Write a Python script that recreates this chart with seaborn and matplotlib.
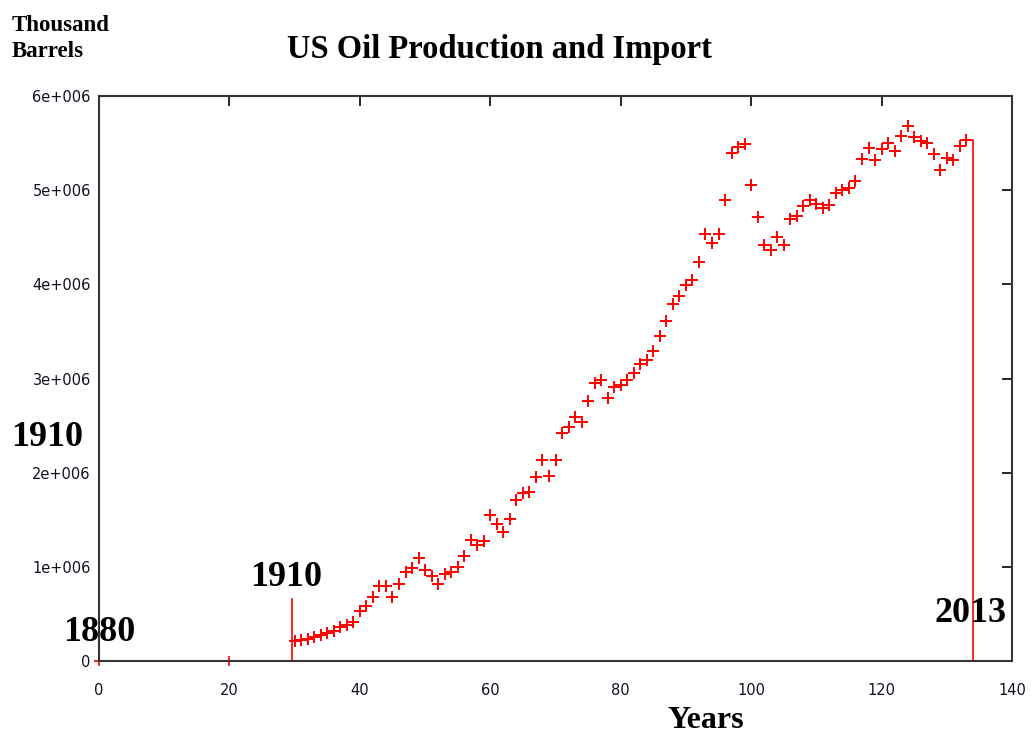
import numpy as np
import pandas as pd
import matplotlib
matplotlib.use("Agg")
import matplotlib.pyplot as plt
import seaborn as sns

# --- DATI ---
base_year = 1880
years = list(range(1910, 2014))
production = [
    0.21, 0.22, 0.23, 0.26, 0.28, 0.30, 0.32, 0.36, 0.38, 0.41,   # 1910-1919
    0.53, 0.58, 0.68, 0.80, 0.80, 0.68, 0.82, 0.95, 0.99, 1.09,   # 1920-1929
    0.97, 0.90, 0.82, 0.92, 0.95, 1.00, 1.12, 1.29, 1.23, 1.28,   # 1930-1939
    1.55, 1.46, 1.37, 1.51, 1.71, 1.78, 1.80, 1.95, 2.14, 1.97,   # 1940-1949
    2.14, 2.42, 2.49, 2.59, 2.54, 2.76, 2.95, 2.98, 2.79, 2.91,   # 1950-1959
    2.93, 2.98, 3.06, 3.15, 3.20, 3.29, 3.45, 3.61, 3.79, 3.88,   # 1960-1969
    3.99, 4.05, 4.24, 4.53, 4.44, 4.54, 4.90, 5.40, 5.46, 5.49,   # 1970-1979
    5.06, 4.72, 4.42, 4.37, 4.50, 4.42, 4.69, 4.73, 4.83, 4.90,   # 1980-1989
    4.85, 4.81, 4.84, 4.97, 5.00, 5.02, 5.10, 5.33, 5.45, 5.32,   # 1990-1999
    5.44, 5.50, 5.42, 5.58, 5.68, 5.57, 5.52, 5.50, 5.39, 5.22,   # 2000-2009
    5.34, 5.32, 5.47, 5.53,                                       # 2010-2013
]
# punti isolati a zero (1880, 1900)
zero_years = [1880, 1900]
zero_values = [0, 0]

y_ticks = [0, 1e6, 2e6, 3e6, 4e6, 5e6, 6e6]
y_tick_labels = ["0", "1e+006", "2e+006", "3e+006", "4e+006", "5e+006", "6e+006"]
x_ticks = [0, 20, 40, 60, 80, 100, 120, 140]

df = pd.DataFrame({
    "Years": [y - base_year for y in years],
    "Barrels": [v * 1e6 for v in production],
})
df_zero = pd.DataFrame({
    "Years": [y - base_year for y in zero_years],
    "Barrels": zero_values,
})

# --- GRAFICO ---
sns.set_style("white")
plt.rcParams["font.family"] = ["DejaVu Sans"]
plt.rcParams["text.color"] = "black"

fig = plt.figure(figsize=(10.36, 7.39), dpi=100)
ax = fig.add_axes([0.0956, 0.1055, 0.8812, 0.7645])

red = "#ff0000"
serif = ["Liberation Serif", "DejaVu Serif"]

sns.scatterplot(data=df, x="Years", y="Barrels", marker="+", s=80,
                color=red, linewidth=1.4, ax=ax, legend=False, zorder=3)
sns.scatterplot(data=df_zero, x="Years", y="Barrels", marker="+", s=60,
                color=red, linewidth=1.2, ax=ax, legend=False, clip_on=False, zorder=1)

# linea verticale 1910
x_first = df["Years"].iloc[0]
ax.vlines(x_first - 0.4, 0, 0.67e6, color=red, linewidth=1.2)
# gradino finale 2013
x_last = df["Years"].iloc[-1]
y_last = df["Barrels"].iloc[-1]
ax.plot([x_last, x_last + 1, x_last + 1], [y_last, y_last, 0], color=red, linewidth=1.2)

ax.set_xlim(0, 140)
ax.set_ylim(0, 6e6)
ax.set_xticks(x_ticks)
ax.set_xticklabels([str(t) for t in x_ticks])
ax.set_yticks(y_ticks)
ax.set_yticklabels(y_tick_labels)
ax.tick_params(direction="in", length=7, width=1.3, top=True, right=True,
               labelsize=10.5, colors="#111122", pad=6)
ax.tick_params(axis="x", pad=16)
for sp in ax.spines.values():
    sp.set_color("#333333")
    sp.set_linewidth(1.5)

ax.set_xlabel("Years", fontsize=23, fontweight="bold", family=serif, color="black")
ax.xaxis.set_label_coords(0.665, -0.08)
ax.set_ylabel("")

fig.text(0.482, 0.933, "US Oil Production and Import", ha="center", va="center",
         fontsize=23.5, fontweight="bold", family=serif, color="black")
fig.text(0.011, 0.98, "Thousand\nBarrels", ha="left", va="top",
         fontsize=16.5, fontweight="bold", family=serif, linespacing=1.3, color="black")

# etichette anni
lab_kw = dict(fontsize=26, fontweight="bold", family=serif, ha="center", va="center",
              clip_on=False, color="black")
ax.text(0, 0.30e6, "1880", **lab_kw)
ax.text(28.7, 0.89e6, "1910", **lab_kw)
ax.text(133.7, 0.51e6, "2013", **lab_kw)
ax.text(-8, 2.37e6, "1910", **lab_kw)

plt.savefig("out.png", dpi=100)
